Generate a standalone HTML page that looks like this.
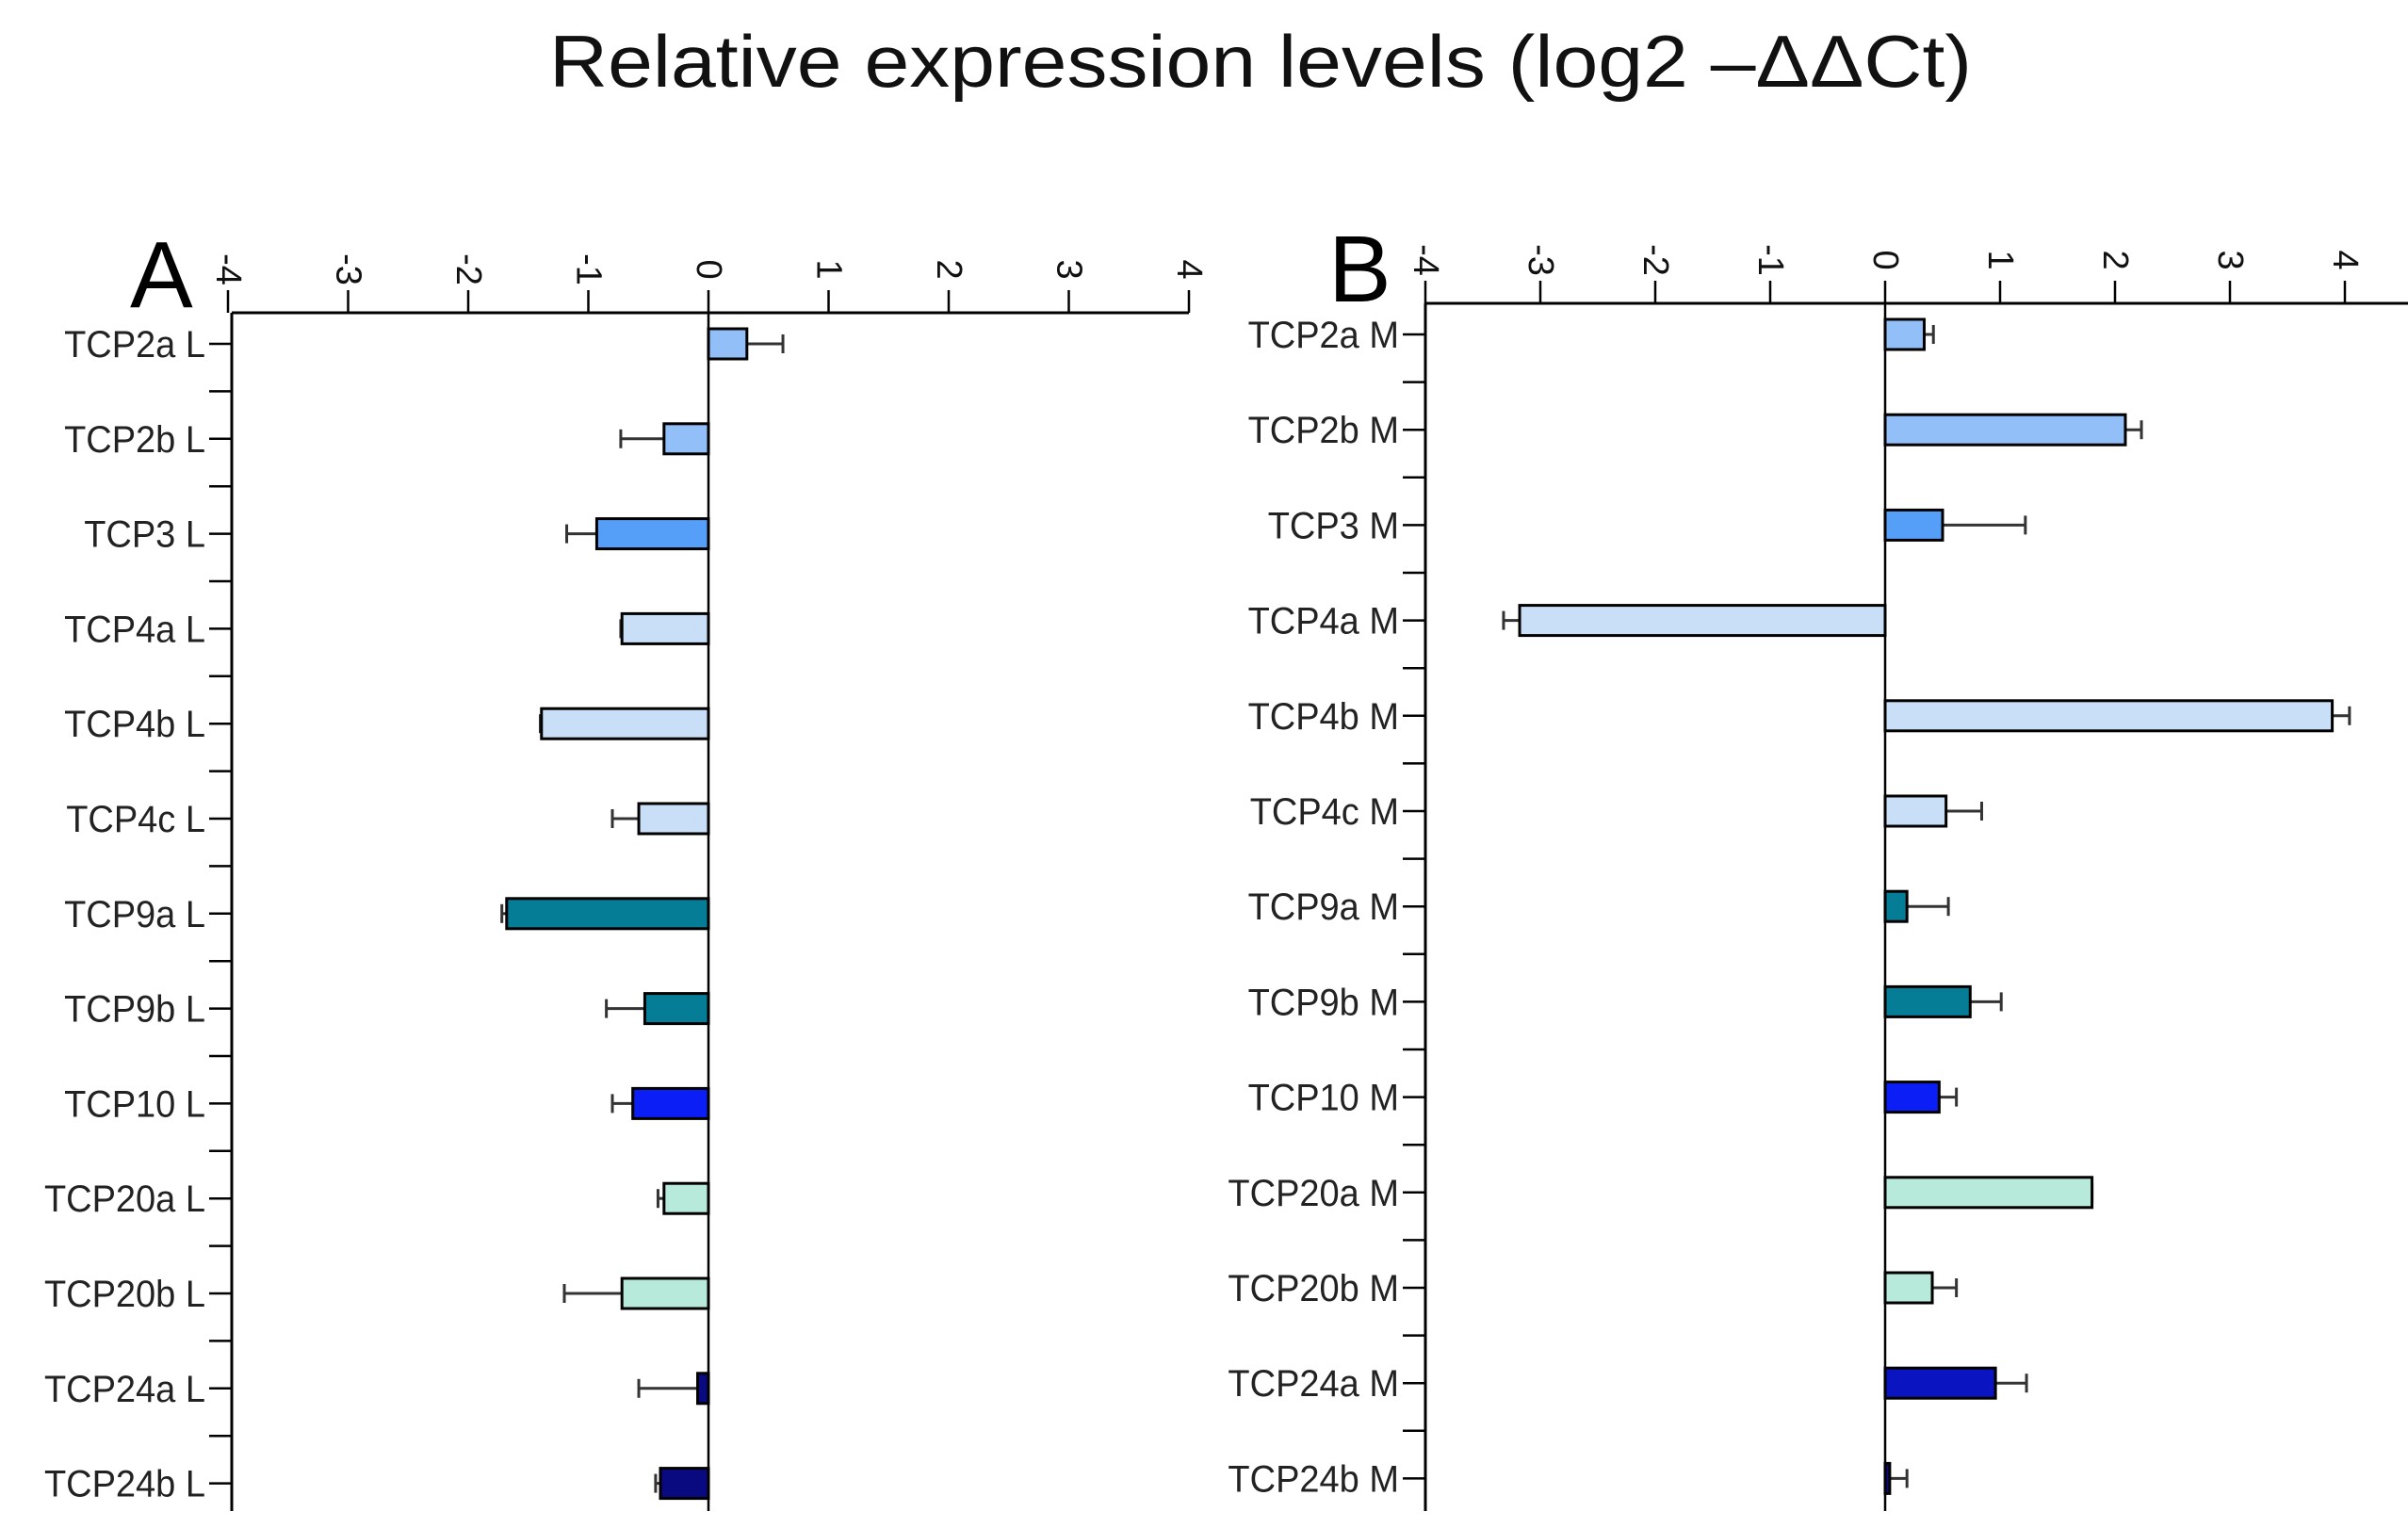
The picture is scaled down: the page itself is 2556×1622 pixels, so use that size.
<!DOCTYPE html>
<html><head><meta charset="utf-8"><style>
html,body{margin:0;padding:0;background:#fff;}
svg{display:block;font-family:"Liberation Sans",Arial,sans-serif;}
</style></head><body>
<svg id="chart" width="2556" height="1622" viewBox="0 0 2556 1622" xmlns="http://www.w3.org/2000/svg">
<text x="1338" y="92" text-anchor="middle" font-size="78" textLength="1510" lengthAdjust="spacingAndGlyphs" fill="#111">Relative expression levels (log2 –ΔΔCt)</text>
<text x="138" y="326" font-size="100" fill="#000">A</text>
<text x="1410" y="320" font-size="100" fill="#000">B</text>
<g id="pa"></g>
<g id="pb"></g>
</svg>
<script>
const ticks = [-4,-3,-2,-1,0,1,2,3,4];
const tickLabels = ["-4","-3","-2","-1","0","1","2","3","4"];
const catsA = ["TCP2a L","TCP2b L","TCP3 L","TCP4a L","TCP4b L","TCP4c L","TCP9a L","TCP9b L","TCP10 L","TCP20a L","TCP20b L","TCP24a L","TCP24b L"];
const valsA = [0.32,-0.37,-0.93,-0.72,-1.39,-0.58,-1.68,-0.53,-0.63,-0.37,-0.72,-0.09,-0.40];
const errA  = [0.62,-0.73,-1.18,-0.73,-1.40,-0.80,-1.72,-0.85,-0.80,-0.42,-1.20,-0.58,-0.44];
const catsB = ["TCP2a M","TCP2b M","TCP3 M","TCP4a M","TCP4b M","TCP4c M","TCP9a M","TCP9b M","TCP10 M","TCP20a M ","TCP20b M","TCP24a M","TCP24b M"];
const valsB = [0.34,2.09,0.50,-3.18,3.89,0.53,0.19,0.74,0.47,1.80,0.41,0.96,0.04];
const errB  = [0.42,2.23,1.22,-3.32,4.04,0.84,0.55,1.01,0.62,1.80,0.62,1.23,0.19];
const colorsA = ["#92bff7","#92bff7","#559ff8","#c9dff7","#c9dff7","#c9dff7","#067d96","#067d96","#0a1ef5","#b7eadb","#b7eadb","#0a0a80","#0a0a80"];
const colorsB = ["#92bff7","#92bff7","#559ff8","#c9dff7","#c9dff7","#c9dff7","#067d96","#067d96","#0a1ef5","#b7eadb","#b7eadb","#0a14c0","#0a0a80"];
const NS="http://www.w3.org/2000/svg";
function mk(parent,tag,attrs){const e=document.createElementNS(NS,tag);for(const k in attrs)e.setAttribute(k,attrs[k]);parent.appendChild(e);return e;}
function panel(g,cfg,cats,vals,errs,colors,pfx){
  const x=v=>cfg.zero+v*cfg.unit;
  const y=i=>cfg.row0+i*cfg.rowStep;
  let a=mk(g,'line',{x1:cfg.left,x2:cfg.right,y1:cfg.axisY,y2:cfg.axisY,stroke:'#000','stroke-width':3});
  
  
  ticks.forEach((t,i)=>{
    const l=mk(g,'line',{x1:x(t),x2:x(t),y1:cfg.axisY,y2:cfg.axisY-24,stroke:'#000','stroke-width':2.5});
    
    
    const tx=mk(g,'text',{x:0,y:0,'font-size':38,fill:'#111','text-anchor':'middle',transform:`translate(${x(t)},${cfg.axisY-46}) rotate(90)`,'dominant-baseline':'central'});
    tx.textContent=tickLabels[i];
    
    
  });
  let la=mk(g,'line',{x1:cfg.left,x2:cfg.left,y1:cfg.axisY,y2:cfg.bottom,stroke:'#000','stroke-width':3});
  
  
  let zl=mk(g,'line',{x1:x(0),x2:x(0),y1:cfg.axisY,y2:cfg.bottom,stroke:'#000','stroke-width':2.5});
  
  
  cats.forEach((c,i)=>{
    const yy=y(i);
    const tk=mk(g,'line',{x1:cfg.left-24,x2:cfg.left,y1:yy,y2:yy,stroke:'#000','stroke-width':2.5});
    
    
    if(i<cats.length-1){
      const mt=mk(g,'line',{x1:cfg.left-24,x2:cfg.left,y1:yy+cfg.rowStep/2,y2:yy+cfg.rowStep/2,stroke:'#000','stroke-width':2.5});
      
      
    }
    const lb=mk(g,'text',{x:cfg.left-28,y:yy+14,'font-size':40,fill:'#222','text-anchor':'end',transform:`translate(${cfg.left-28},0) scale(0.95,1) translate(${-(cfg.left-28)},0)`});
    lb.textContent=c;
    
    
    const v=vals[i], e=errs[i];
    const bx=Math.min(x(0),x(v)), bw=Math.abs(x(v)-x(0));
    const eb=mk(g,'line',{x1:x(v),x2:x(e),y1:yy,y2:yy,stroke:'#333','stroke-width':3});
    
    
    const ec=mk(g,'line',{x1:x(e),x2:x(e),y1:yy-10,y2:yy+10,stroke:'#333','stroke-width':3});
    
    
    const r=mk(g,'rect',{x:bx,y:yy-16,width:bw,height:32,fill:colors[i],stroke:'#000','stroke-width':3});
    
    
  });
}
panel(document.getElementById('pa'),{left:246,right:1262,zero:752,unit:127.5,axisY:332,row0:365,rowStep:100.8,bottom:1604},catsA,valsA,errA,colorsA,'panel-a');
panel(document.getElementById('pb'),{left:1513,right:2556,zero:2001,unit:122,axisY:322,row0:355,rowStep:101.2,bottom:1604},catsB,valsB,errB,colorsB,'panel-b');
</script>
</body></html>
